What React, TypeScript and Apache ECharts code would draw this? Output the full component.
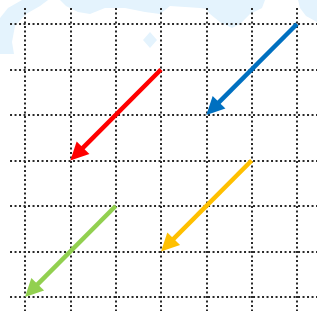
import React, { useEffect, useRef } from "react";
import * as echarts from "echarts";

// grid line positions (axis units)
const gridXs = [0, 1, 2, 3, 4, 5, 6];
const gridYs = [0, 1, 2, 3, 4, 5, 6];

// arrows: from -> to
const arrowNames = ["blue", "red", "orange", "green"];
const arrowFrom = [
  [6, 6],
  [3, 5],
  [5, 3],
  [2, 2],
];
const arrowTo = [
  [4, 4],
  [1, 3],
  [3, 1],
  [0, 0],
];
const arrowColors = ["#0070C0", "#FF0000", "#FFC000", "#92D050"];

export default function App() {
  const ref = useRef<HTMLDivElement>(null);
  useEffect(() => {
    if (!ref.current) return;
    const chart = echarts.init(ref.current, undefined, { renderer: "svg" });
    const wm = "#e4f3fd";
    const hLines = gridYs.map((y) => ({ coords: [[-0.33, y], [6.5, y]] }));
    const vLines = gridXs.map((x) => ({ coords: [[x, -0.32], [x, 6.4]] }));
    const arrowData = arrowNames.map((name, i) => ({
      name,
      value: [arrowFrom[i][0], arrowFrom[i][1], arrowTo[i][0], arrowTo[i][1]],
      itemStyle: { color: arrowColors[i] },
    }));
    const headLen = 18;
    const headHalf = 9;
    chart.setOption({
      animation: false,
      backgroundColor: "#ffffff",
      grid: { left: 25, right: 20, top: 24, bottom: 14 },
      xAxis: { type: "value", min: 0, max: 6, show: false },
      yAxis: { type: "value", min: 0, max: 6, show: false },
      graphic: [
        {
          type: "group",
          z: -10,
          silent: true,
          children: [
            { type: "polygon", shape: { points: [[0, 54], [0, 18], [8, 8], [22, 0], [48, 0], [40, 6], [26, 14], [15, 26], [12, 42], [14, 54]] }, style: { fill: wm } },
            { type: "polygon", shape: { points: [[60, 0], [110, 0], [110, 6], [100, 10], [90, 14], [78, 12], [66, 6]] }, style: { fill: wm } },
            { type: "polygon", shape: { points: [[105, 0], [215, 0], [215, 10], [200, 8], [170, 6], [160, 14], [145, 12], [125, 8], [105, 8]] }, style: { fill: wm } },
            { type: "polygon", shape: { points: [[150, 32], [157, 40], [150, 48], [143, 40]] }, style: { fill: wm } },
            { type: "polygon", shape: { points: [[205, 0], [265, 0], [262, 8], [250, 14], [240, 24], [232, 28], [220, 22], [210, 14], [205, 8]] }, style: { fill: wm } },
            { type: "polygon", shape: { points: [[298, 0], [317, 0], [317, 22], [306, 16], [300, 8]] }, style: { fill: wm } },
          ],
        },
      ],
      series: [
        {
          type: "lines",
          coordinateSystem: "cartesian2d",
          clip: false,
          z: 2,
          silent: true,
          lineStyle: { color: "#2a2a2a", width: 2, type: [2, 2.5], opacity: 1 },
          data: [...hLines, ...vLines],
        },
        {
          type: "custom",
          coordinateSystem: "cartesian2d",
          z: 5,
          silent: true,
          clip: false,
          encode: { x: [0, 2], y: [1, 3] },
          data: arrowData,
          renderItem: (params: any, api: any) => {
            const p1 = api.coord([api.value(0), api.value(1)]);
            const p2 = api.coord([api.value(2), api.value(3)]);
            const color = api.visual("color");
            const dx = p2[0] - p1[0];
            const dy = p2[1] - p1[1];
            const len = Math.sqrt(dx * dx + dy * dy);
            const ux = dx / len;
            const uy = dy / len;
            const bx = p2[0] - ux * headLen;
            const by = p2[1] - uy * headLen;
            const nx = -uy;
            const ny = ux;
            return {
              type: "group",
              children: [
                {
                  type: "line",
                  shape: { x1: p1[0], y1: p1[1], x2: bx + ux * 2, y2: by + uy * 2 },
                  style: { stroke: color, lineWidth: 4.5, lineCap: "butt" },
                },
                {
                  type: "polygon",
                  shape: {
                    points: [
                      [p2[0], p2[1]],
                      [bx + nx * headHalf, by + ny * headHalf],
                      [bx - nx * headHalf, by - ny * headHalf],
                    ],
                  },
                  style: { fill: color },
                },
              ],
            };
          },
        },
      ],
    });
    return () => chart.dispose();
  }, []);
  return (
    <div
      ref={ref}
      style={{ position: "fixed", left: 0, top: 0, width: 317, height: 311 }}
    />
  );
}
